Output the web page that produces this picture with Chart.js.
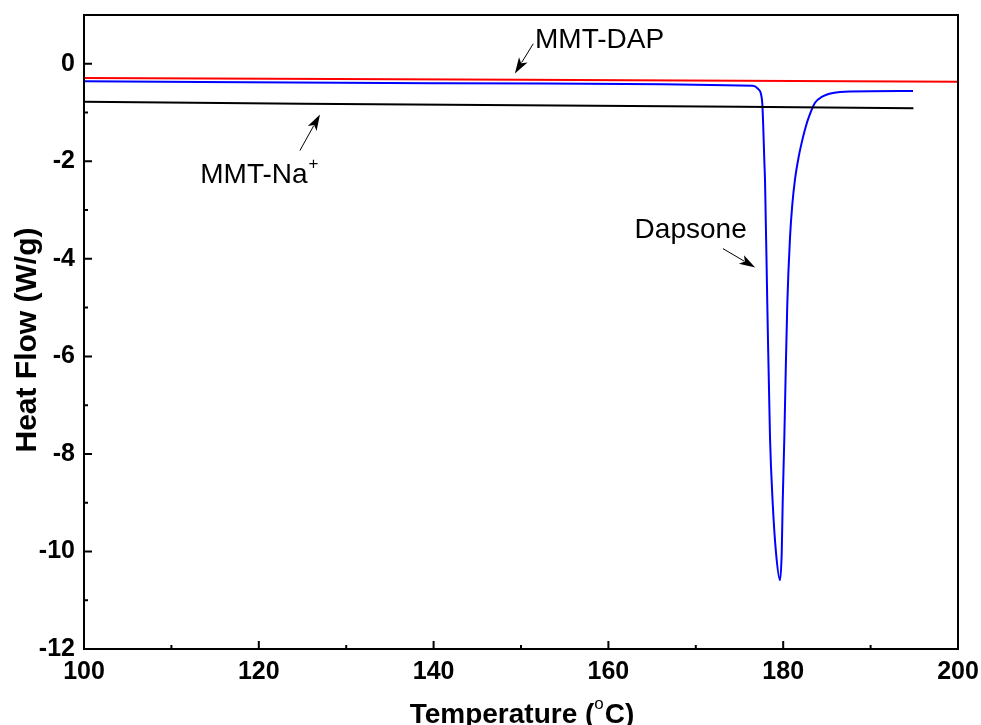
<!DOCTYPE html>
<html>
<head>
<meta charset="utf-8">
<title>DSC heat flow</title>
<script src="https://cdn.jsdelivr.net/npm/chart.js@4/dist/chart.umd.min.js"></script>
<style>
  html, body { margin: 0; padding: 0; background: #fff; }
  #dsc { display: block; }
</style>
</head>
<body>
<canvas id="dsc" width="981" height="725"></canvas>
<script>
// temperature (°C) / heat flow (W/g) for each curve
const dapTemp = [100, 150, 200];
const dapFlow = [-0.29, -0.33, -0.37];

const naTemp = [100, 125, 150, 175, 194.9];
const naFlow = [-0.78, -0.82, -0.85, -0.88, -0.91];

const dapsoneTemp = [100, 140, 176.54, 177.15, 177.46, 177.61, 177.72, 177.84, 177.92, 178.18, 178.49, 178.8, 179.18, 179.63,
    179.83, 179.94, 180.13, 180.29, 180.47, 180.78, 181.03, 181.35, 181.78, 182.3, 182.55, 182.84, 183.64, 184.41, 185.7, 187.64, 194.85];
const dapsoneFlow = [-0.36, -0.40, -0.45, -0.52, -0.62, -0.82, -1.30, -1.99, -2.4, -4.92, -7.66, -9.01, -10.03, -10.59,
    -10.03, -9.01, -7.66, -6.29, -4.92, -3.56, -2.91, -2.37, -1.90, -1.48, -1.31, -1.14, -0.80, -0.68, -0.6, -0.57, -0.56];

const xTicks = [100, 120, 140, 160, 180, 200];
const yTicks = [-12, -10, -8, -6, -4, -2, 0];
const xMinor = [110, 130, 150, 170, 190];
const yMinor = [-11, -9, -7, -5, -3, -1];

// curve labels with their arrows, in data units
const notes = [
    { text: 'MMT-DAP', sup: '', at: [151.6, 0.33], from: [151.4, 0.41], to: [149.3, -0.20] },
    { text: 'MMT-Na', sup: '+', at: [113.3, -2.44], from: [124.7, -1.78], to: [127.0, -1.04] },
    { text: 'Dapsone', sup: '', at: [163.0, -3.58], from: [173.1, -3.79], to: [176.8, -4.18] }
];

const FONT = '"Liberation Sans", Arial, Helvetica, sans-serif';

function toPoints(xs, ys) {
    return xs.map((x, i) => ({ x, y: ys[i] }));
}

function drawArrow(ctx, x1, y1, x2, y2) {
    const ang = Math.atan2(y2 - y1, x2 - x1);
    const len = 16, half = 5;
    ctx.beginPath();
    ctx.moveTo(x1, y1);
    ctx.lineTo(x2 - Math.cos(ang) * len * 0.8, y2 - Math.sin(ang) * len * 0.8);
    ctx.lineWidth = 1;
    ctx.stroke();
    ctx.beginPath();
    ctx.moveTo(x2, y2);
    ctx.lineTo(x2 - Math.cos(ang) * len - Math.sin(ang) * half, y2 - Math.sin(ang) * len + Math.cos(ang) * half);
    ctx.lineTo(x2 - Math.cos(ang) * len * 0.75, y2 - Math.sin(ang) * len * 0.75);
    ctx.lineTo(x2 - Math.cos(ang) * len + Math.sin(ang) * half, y2 - Math.sin(ang) * len - Math.cos(ang) * half);
    ctx.closePath();
    ctx.fill();
}

const framePlugin = {
    id: 'frame',
    afterDraw(chart) {
        const { ctx, chartArea: a, scales: { x, y } } = chart;
        ctx.save();
        ctx.strokeStyle = '#000';
        ctx.fillStyle = '#000';

        // box
        ctx.lineWidth = 2;
        ctx.strokeRect(a.left, a.top, a.right - a.left, a.bottom - a.top);

        // inward ticks on bottom and left
        ctx.beginPath();
        xTicks.forEach(v => { const px = x.getPixelForValue(v); ctx.moveTo(px, a.bottom); ctx.lineTo(px, a.bottom - 8); });
        xMinor.forEach(v => { const px = x.getPixelForValue(v); ctx.moveTo(px, a.bottom); ctx.lineTo(px, a.bottom - 4); });
        yTicks.forEach(v => { const py = y.getPixelForValue(v); ctx.moveTo(a.left, py); ctx.lineTo(a.left + 8, py); });
        yMinor.forEach(v => { const py = y.getPixelForValue(v); ctx.moveTo(a.left, py); ctx.lineTo(a.left + 4, py); });
        ctx.stroke();

        // axis titles
        ctx.font = 'bold 30px ' + FONT;
        ctx.textAlign = 'center';
        ctx.textBaseline = 'middle';
        ctx.save();
        ctx.translate(28, 340);
        ctx.rotate(-Math.PI / 2);
        ctx.fillText('Heat Flow (W/g)', 0, 0);
        ctx.restore();

        const big = 'bold 28px ' + FONT, small = '17px ' + FONT;
        ctx.textAlign = 'left';
        ctx.textBaseline = 'alphabetic';
        ctx.font = big;
        const p1 = 'Temperature (', p3 = 'C)';
        const w1 = ctx.measureText(p1).width, w3 = ctx.measureText(p3).width;
        ctx.font = small;
        const w2 = ctx.measureText('o').width + 1;
        let tx = 522 - (w1 + w2 + w3) / 2;
        const base = 723;
        ctx.font = big;
        ctx.fillText(p1, tx, base);
        ctx.font = small;
        ctx.fillText('o', tx + w1, base - 14);
        ctx.font = big;
        ctx.fillText(p3, tx + w1 + w2, base);

        // curve labels
        notes.forEach(n => {
            const px = x.getPixelForValue(n.at[0]), py = y.getPixelForValue(n.at[1]);
            ctx.font = '28px ' + FONT;
            ctx.fillText(n.text, px, py);
            if (n.sup) {
                const w = ctx.measureText(n.text).width;
                ctx.font = '17px ' + FONT;
                ctx.fillText(n.sup, px + w + 1, py - 14);
            }
            drawArrow(ctx,
                x.getPixelForValue(n.from[0]), y.getPixelForValue(n.from[1]),
                x.getPixelForValue(n.to[0]), y.getPixelForValue(n.to[1]));
        });
        ctx.restore();
    }
};

const lineStyle = { borderWidth: 2, pointRadius: 0, fill: false };

new Chart(document.getElementById('dsc'), {
    type: 'line',
    data: {
        datasets: [
            { label: 'MMT-Na+', data: toPoints(naTemp, naFlow), borderColor: '#000000', ...lineStyle },
            { label: 'Dapsone', data: toPoints(dapsoneTemp, dapsoneFlow), borderColor: '#0000ff', cubicInterpolationMode: 'monotone', ...lineStyle },
            { label: 'MMT-DAP', data: toPoints(dapTemp, dapFlow), borderColor: '#ff0000', ...lineStyle }
        ]
    },
    options: {
        responsive: false,
        animation: false,
        layout: { padding: { left: 0, top: 15, right: 23, bottom: 0 } },
        plugins: { legend: { display: false }, tooltip: { enabled: false } },
        scales: {
            x: {
                type: 'linear', min: 100, max: 200,
                afterBuildTicks: s => { s.ticks = xTicks.map(value => ({ value })); },
                afterFit: s => { s.height = 76; s.paddingLeft = 0; s.paddingRight = 0; },
                grid: { display: false, drawTicks: false },
                border: { display: false },
                ticks: { color: '#000', padding: 8, font: { family: FONT, size: 25, weight: 'bold' } }
            },
            y: {
                type: 'linear', min: -12, max: 1,
                afterBuildTicks: s => { s.ticks = yTicks.map(value => ({ value })); },
                afterFit: s => { s.width = 84; s.paddingTop = 0; s.paddingBottom = 0; },
                grid: { display: false, drawTicks: false },
                border: { display: false },
                ticks: { color: '#000', padding: 9, font: { family: FONT, size: 25, weight: 'bold' } }
            }
        }
    },
    plugins: [framePlugin]
});
</script>
</body>
</html>
